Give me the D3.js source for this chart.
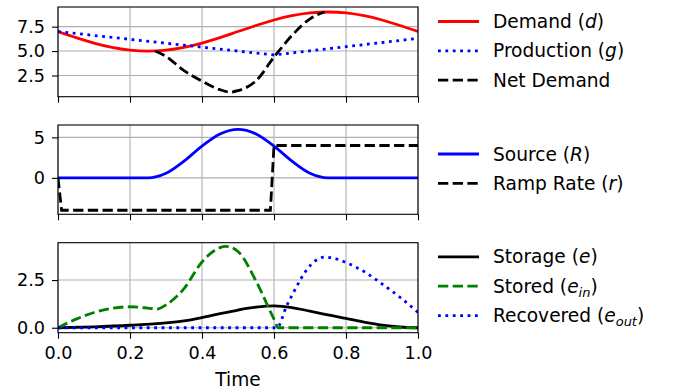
<!DOCTYPE html>
<html>
<head>
<meta charset="utf-8">
<script src="https://cdn.jsdelivr.net/npm/d3@7"></script>
<style>
  body { margin: 0; background: #fff; }
  text { font-family: "DejaVu Sans", sans-serif; fill: #000; }
</style>
</head>
<body>
<script>
// data: [time, value]
const timeTicks = [0, 0.2, 0.4, 0.6, 0.8, 1.0];

const demand = [[0,7.0],[0.05,6.38],[0.1,5.82],[0.15,5.38],[0.2,5.1],[0.25,5.0],[0.3,5.1],[0.35,5.38],
  [0.4,5.82],[0.45,6.38],[0.5,7.0],[0.55,7.62],[0.6,8.18],[0.65,8.62],[0.7,8.9],[0.75,9.0],
  [0.8,8.9],[0.85,8.62],[0.9,8.18],[0.95,7.62],[1.0,7.0]];
const production = [[0,7.0],[0.6,4.6],[1.0,6.3]];
const netDemand = [[0.27,5.0],[0.3,4.45],[0.35,3.0],[0.4,1.93],[0.45,1.05],[0.48,0.8],[0.5,0.95],
  [0.55,1.95],[0.6,4.38],[0.65,6.6],[0.7,8.3],[0.74,9.0]];

const source = [[0,0],[0.25,0],[0.3,0.57],[0.35,2.07],[0.4,3.93],[0.45,5.43],[0.5,6.0],[0.55,5.43],
  [0.6,3.93],[0.65,2.07],[0.7,0.57],[0.75,0],[1.0,0]];
const rampRate = [[0,0],[0.01,-4],[0.59,-4],[0.6,4],[1.0,4]];

const storage = [[0,0],[0.1,0.05],[0.2,0.13],[0.3,0.25],[0.35,0.36],[0.4,0.53],[0.45,0.74],[0.5,0.93],
  [0.55,1.08],[0.6,1.15],[0.65,1.06],[0.7,0.87],[0.75,0.67],[0.8,0.49],[0.85,0.3],[0.9,0.14],
  [0.95,0.04],[1.0,0]];
const stored = [[0,0],[0.05,0.45],[0.1,0.8],[0.15,1.02],[0.2,1.1],[0.25,1.03],[0.275,0.98],[0.3,1.2],
  [0.35,2.05],[0.4,3.45],[0.45,4.2],[0.465,4.27],[0.5,4.0],[0.55,2.45],[0.6,0.45],[0.612,0],[1.0,0]];
const recovered = [[0,0],[0.608,0],[0.635,1.14],[0.65,1.7],[0.7,3.25],[0.74,3.7],[0.76,3.67],
  [0.8,3.42],[0.85,2.95],[0.9,2.3],[0.95,1.6],[1.0,0.8]];

const yTicks1 = [2.5, 5.0, 7.5];
const yTicks2 = [0, 5];
const yTicks3 = [0.0, 2.5];

const width = 677, height = 390;
const svg = d3.select('body').append('svg')
  .attr('width', width).attr('height', height);

const left = 58, right = 418;
const x = d3.scaleLinear().domain([0, 1]).range([left, right]);

const lw = 2.8;
const dashed = '10.3,4.4';
const dotted = '2.8,4.6';

const panels = [
  {top: 7, bottom: 96.7, domain: [0.33, 9.51], ticks: yTicks1, fmt: d3.format('.1f'),
    series: [
      {data: demand, color: '#ff0000', dash: null, curve: d3.curveMonotoneX, label: ['Demand (', ['d'], ')']},
      {data: production, color: '#0000ff', dash: dotted, curve: d3.curveLinear, label: ['Production (', ['g'], ')']},
      {data: netDemand, color: '#000000', dash: dashed, curve: d3.curveMonotoneX, label: ['Net Demand']}
    ], legendY: [21.5, 50.8, 80.1]},
  {top: 125, bottom: 214.3, domain: [-4.5, 6.53], ticks: yTicks2, fmt: d3.format('d'),
    series: [
      {data: source, color: '#0000ff', dash: null, curve: d3.curveMonotoneX, label: ['Source (', ['R'], ')']},
      {data: rampRate, color: '#000000', dash: dashed, curve: d3.curveLinear, label: ['Ramp Rate (', ['r'], ')']}
    ], legendY: [154, 183.3]},
  {top: 242.7, bottom: 332.7, domain: [-0.26, 4.46], ticks: yTicks3, fmt: d3.format('.1f'),
    series: [
      {data: storage, color: '#000000', dash: null, curve: d3.curveMonotoneX, label: ['Storage (', ['e'], ')']},
      {data: stored, color: '#008000', dash: dashed, curve: d3.curveMonotoneX, label: ['Stored (', ['e', 'in'], ')']},
      {data: recovered, color: '#0000ff', dash: dotted, curve: d3.curveMonotoneX, label: ['Recovered (', ['e', 'out'], ')']}
    ], legendY: [256.8, 286.2, 315.6]}
];

panels.forEach((p, i) => {
  const y = d3.scaleLinear().domain(p.domain).range([p.bottom, p.top]);
  const g = svg.append('g');

  svg.append('clipPath').attr('id', 'clip' + i)
    .append('rect').attr('x', left).attr('y', p.top)
    .attr('width', right - left).attr('height', p.bottom - p.top);

  // grid
  g.append('g').selectAll('line').data(timeTicks).join('line')
    .attr('x1', d => x(d)).attr('x2', d => x(d))
    .attr('y1', p.top).attr('y2', p.bottom)
    .attr('stroke', '#b0b0b0').attr('stroke-width', 1.1);
  g.append('g').selectAll('line').data(p.ticks).join('line')
    .attr('x1', left).attr('x2', right)
    .attr('y1', d => y(d)).attr('y2', d => y(d))
    .attr('stroke', '#b0b0b0').attr('stroke-width', 1.1);

  // lines
  const lines = g.append('g').attr('clip-path', `url(#clip${i})`);
  p.series.forEach(s => {
    const line = d3.line().x(d => x(d[0])).y(d => y(d[1])).curve(s.curve);
    lines.append('path')
      .attr('d', line(s.data))
      .attr('fill', 'none')
      .attr('stroke', s.color)
      .attr('stroke-width', lw)
      .attr('stroke-dasharray', s.dash);
  });

  // axes
  const yAxis = d3.axisLeft(y).tickValues(p.ticks).tickFormat(p.fmt).tickSize(6).tickPadding(7);
  const ya = g.append('g').attr('transform', `translate(${left},0)`).call(yAxis);
  const xAxis = d3.axisBottom(x).tickValues(timeTicks).tickSize(6).tickPadding(8)
    .tickFormat(i === 2 ? d3.format('.1f') : () => '');
  const xa = g.append('g').attr('transform', `translate(0,${p.bottom})`).call(xAxis);
  [ya, xa].forEach(a => {
    a.select('.domain').remove();
    a.selectAll('line').attr('stroke', '#000').attr('stroke-width', 1.1);
    a.selectAll('text').attr('font-size', 17.6).attr('font-family', '"DejaVu Sans", sans-serif').attr('fill', '#000');
  });

  g.append('rect')
    .attr('x', left).attr('y', p.top)
    .attr('width', right - left).attr('height', p.bottom - p.top)
    .attr('fill', 'none').attr('stroke', '#000').attr('stroke-width', 1.1);

  // legend
  p.series.forEach((s, k) => {
    const ly = p.legendY[k];
    svg.append('line')
      .attr('x1', 438).attr('x2', 479).attr('y1', ly).attr('y2', ly)
      .attr('stroke', s.color).attr('stroke-width', lw)
      .attr('stroke-dasharray', s.dash);
    const t = svg.append('text').attr('x', 493).attr('y', ly).attr('dy', '0.36em')
      .attr('font-size', 18.6);
    t.append('tspan').text(s.label[0]);
    if (s.label.length > 1) {
      const sym = s.label[1];
      t.append('tspan').attr('font-style', 'italic').text(sym[0]);
      if (sym.length > 1) {
        t.append('tspan').attr('font-style', 'italic').attr('font-size', 13)
          .attr('dy', 4).text(sym[1]);
        t.append('tspan').attr('dy', -4).text(s.label[2]);
      } else {
        t.append('tspan').text(s.label[2]);
      }
    }
  });
});

svg.append('text')
  .attr('x', (left + right) / 2).attr('y', 386)
  .attr('text-anchor', 'middle').attr('font-size', 18.6)
  .text('Time');
</script>
</body>
</html>
